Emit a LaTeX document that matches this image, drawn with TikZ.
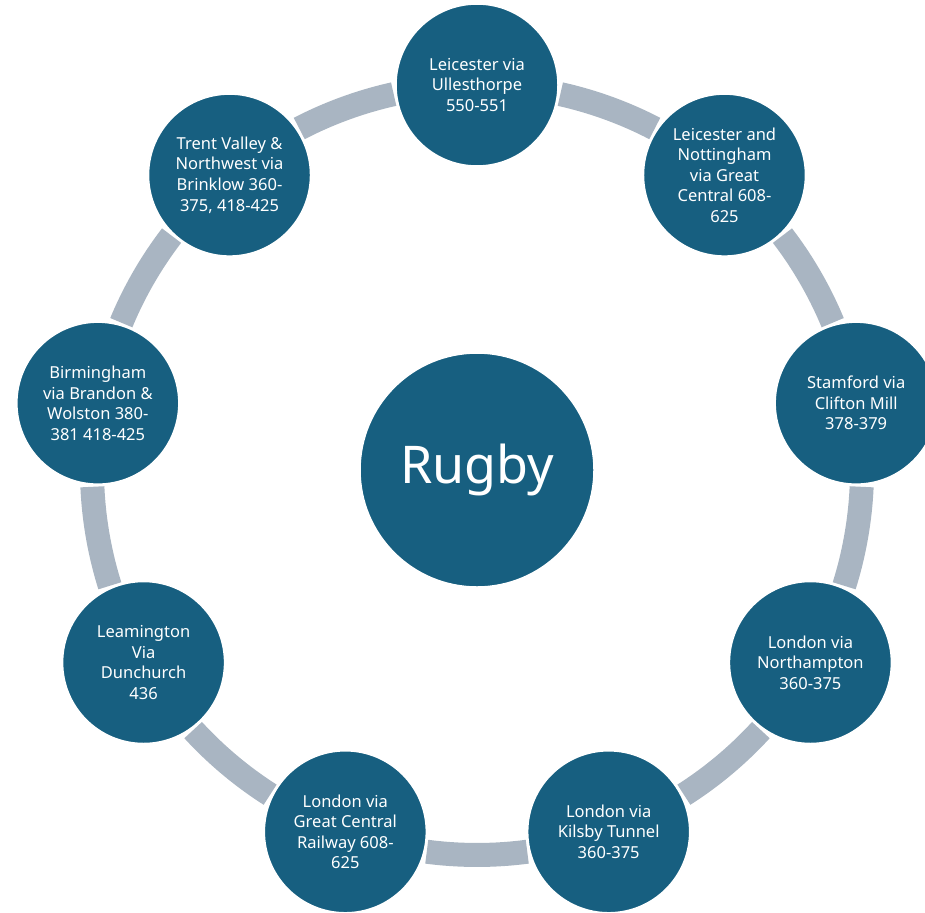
\documentclass[tikz,border=0pt]{standalone}
\usepackage{fontspec}
\setmainfont{Noto Sans}
\definecolor{hubblue}{RGB}{23,95,128}
\definecolor{ringgrey}{RGB}{169,181,194}
\begin{document}
\begin{tikzpicture}[x=1pt,y=1pt]

\tikzset{stop/.style={circle,fill=hubblue,draw=white,line width=1.5pt,minimum size=162pt,inner sep=0pt,text=white,align=center,font=\fontsize{16.5}{20.6}\selectfont}}
\tikzset{hub/.style={stop,minimum size=234pt,font=\fontsize{52}{60}\selectfont}}
\tikzset{link/.style={draw=ringgrey,line width=24pt,bend left=7.5,looseness=0.85}}

\useasboundingbox (0,0) rectangle (925,-912);

\node[hub] (rugby) at (477,-470) {Rugby};

\node[stop] (ulles)  at ([shift={(90:385)}]rugby.center)   {Leicester via\\Ullesthorpe\\550-551};
\node[stop] (notts)  at ([shift={(50:385)}]rugby.center)   {Leicester and\\Nottingham\\via Great\\Central 608-\\625};
\node[stop] (stam)   at ([shift={(10:385)}]rugby.center)   {Stamford via\\Clifton Mill\\378-379};
\node[stop] (north)  at ([shift={(-30:385)}]rugby.center)  {London via\\Northampton\\360-375};
\node[stop] (kilsby) at ([shift={(-70:385)}]rugby.center)  {London via\\Kilsby Tunnel\\360-375};
\node[stop] (gcr)    at ([shift={(-110:385)}]rugby.center) {London via\\Great Central\\Railway 608-\\625};
\node[stop] (leam)   at ([shift={(-150:385)}]rugby.center) {Leamington\\Via\\Dunchurch\\436};
\node[stop] (brum)   at ([shift={(170:385)}]rugby.center)  {Birmingham\\via Brandon \&\\Wolston 380-\\381 418-425};
\node[stop] (trent)  at ([shift={(130:385)}]rugby.center)  {Trent Valley \&\\Northwest via\\Brinklow 360-\\375, 418-425};

% ends of the ring pieces, just clear of each stop
\foreach \name/\a in {ulles/90,notts/50,stam/10,north/-30,kilsby/-70,gcr/-110,leam/-150,brum/170,trent/130} {
  \coordinate (\name-cw)  at ([shift={(\a-12.5:385)}]rugby.center);
  \coordinate (\name-ccw) at ([shift={(\a+12.5:385)}]rugby.center);
}

% ring between the stops
\foreach \from/\to in {ulles/notts,notts/stam,stam/north,north/kilsby,kilsby/gcr,gcr/leam,leam/brum,brum/trent,trent/ulles}
  \draw[link] (\from-cw) to (\to-ccw);

\end{tikzpicture}
\end{document}
